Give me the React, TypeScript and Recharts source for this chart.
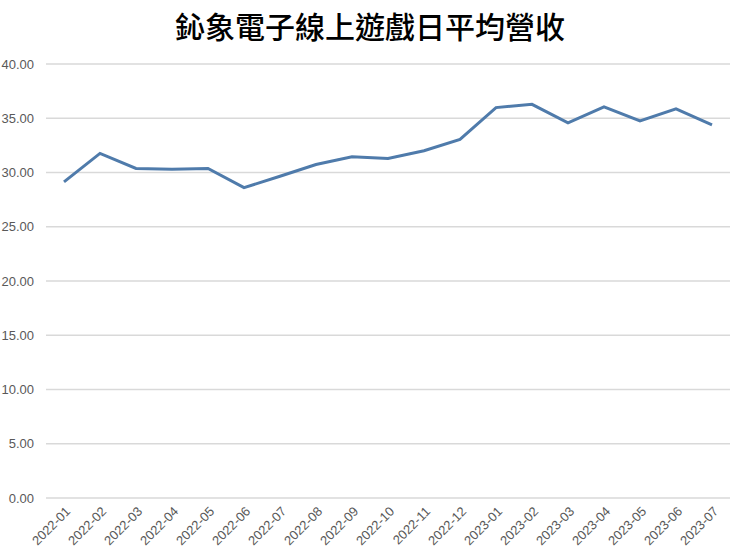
import { LineChart, Line, XAxis, YAxis, CartesianGrid } from "recharts";

const months = [
  "2022-01", "2022-02", "2022-03", "2022-04", "2022-05", "2022-06", "2022-07",
  "2022-08", "2022-09", "2022-10", "2022-11", "2022-12", "2023-01", "2023-02",
  "2023-03", "2023-04", "2023-05", "2023-06", "2023-07",
];

const revenue = [
  29.13, 31.76, 30.37, 30.31, 30.37, 28.6, 29.65, 30.74, 31.45, 31.3,
  32.0, 33.05, 35.98, 36.28, 34.57, 36.04, 34.75, 35.86, 34.4,
];

const yTicks = [0, 5, 10, 15, 20, 25, 30, 35, 40];

const data = months.map((m, i) => ({ month: m, value: revenue[i] }));

const tickFont = "'Liberation Sans', Arial, sans-serif";

function MonthTick(props: any) {
  const { x, y, payload } = props;
  return (
    <g transform={`translate(${x + 4},${y + 9})`}>
      <text
        textAnchor="end"
        dy="0.35em"
        transform="rotate(-45)"
        fill="#595959"
        fontSize={13}
        fontFamily={tickFont}
      >
        {payload.value}
      </text>
    </g>
  );
}

export default function App() {
  return (
    <div
      style={{
        position: "absolute",
        left: 0,
        top: 0,
        width: 740,
        height: 560,
        background: "#fff",
      }}
    >
      <div
        style={{
          position: "absolute",
          top: 5,
          left: 0,
          width: 740,
          textAlign: "center",
          lineHeight: "40px",
          fontSize: 30,
          fontWeight: 500,
          fontFamily: "'Noto Sans CJK TC', sans-serif",
          color: "#000",
        }}
      >
        鈊象電子線上遊戲日平均營收
      </div>
      <LineChart
        width={740}
        height={560}
        data={data}
        margin={{ top: 64, right: 10, bottom: 0, left: 0 }}
      >
        <CartesianGrid vertical={false} stroke="#d9d9d9" strokeWidth={1.3} />
        <XAxis
          dataKey="month"
          axisLine={false}
          tickLine={false}
          tickSize={0}
          height={62}
          interval={0}
          padding={{ left: 18, right: 18 }}
          tick={<MonthTick />}
        />
        <YAxis
          width={46}
          domain={[0, 40]}
          ticks={yTicks}
          axisLine={false}
          tickLine={false}
          tickSize={0}
          tickMargin={12}
          tickFormatter={(v: number) => v.toFixed(2)}
          tick={{ fill: "#595959", fontSize: 13, fontFamily: tickFont }}
        />
        <Line
          type="linear"
          dataKey="value"
          stroke="#4f7bab"
          strokeWidth={3}
          dot={false}
          isAnimationActive={false}
        />
      </LineChart>
    </div>
  );
}
